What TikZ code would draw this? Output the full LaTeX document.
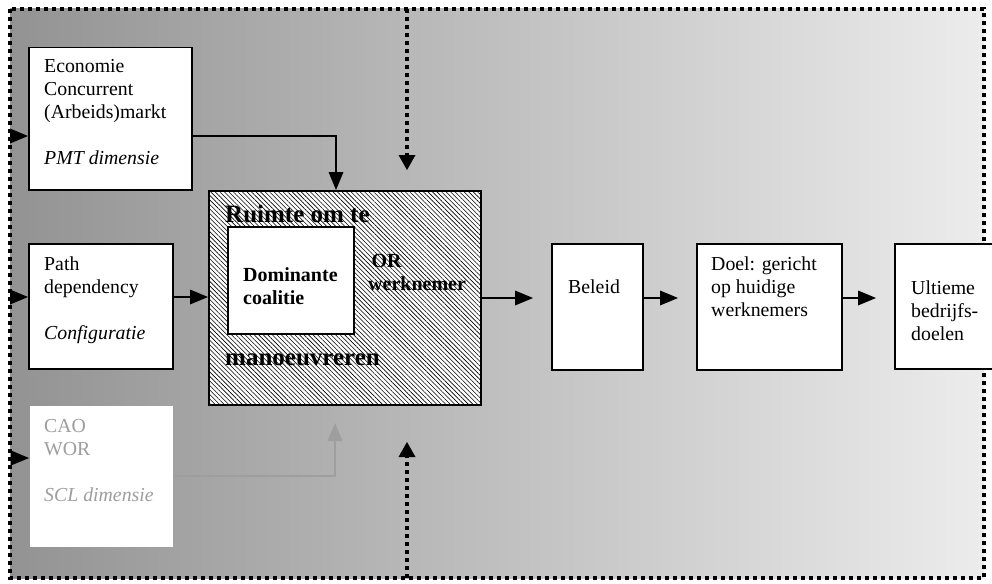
\documentclass[tikz,border=0pt]{standalone}
\usepackage{fontspec}
\setmainfont{Liberation Serif}
\usetikzlibrary{arrows.meta,patterns.meta}
\definecolor{bgL}{RGB}{147,147,147}
\definecolor{bgR}{RGB}{236,236,236}
\definecolor{fade}{RGB}{158,158,158}
\begin{document}
\begin{tikzpicture}[x=1pt,y=-1pt,
  box/.style={draw=black,line width=1.5pt,fill=white,inner sep=0pt,anchor=north west},
  txt/.style={anchor=base west,inner sep=0pt,font=\fontsize{19.8}{23}\selectfont},
  btxt/.style={anchor=base west,inner sep=0pt,font=\fontsize{25}{30}\selectfont\bfseries},
  ctxt/.style={anchor=base west,inner sep=0pt,font=\fontsize{20}{23}\selectfont\bfseries},
  conn/.style={line width=2pt,-{Triangle[length=18pt,width=15pt,line width=0pt]}},
  fadeconn/.style={line width=2pt,draw=fade,-{Triangle[length=18pt,width=15pt,line width=0pt,fill=fade]}},
  dots/.style={line width=3.8pt,dash pattern=on 3.8pt off 4.2pt},
  dotarr/.style={dots,-{Triangle[length=15pt,width=17pt,line width=0pt]}}
]
\useasboundingbox (0,0) rectangle (992,583);
\fill[white] (0,0) rectangle (992,583);
\shade[left color=bgL,right color=bgR] (10,9) rectangle (984,578);
\draw[dots] (10,9) rectangle (984,578);

% boxes
\node[box,minimum width=163pt,minimum height=142pt] (eco) at (28,47) {};
\node[box,minimum width=144pt,minimum height=125pt] (path) at (28,243) {};
\node[box,draw=none,minimum width=143pt,minimum height=141pt] (cao) at (29,405) {};
\node[box,minimum width=272pt,minimum height=214pt,
      postaction={pattern={Lines[angle=-45,distance=3.2pt,line width=0.6pt]}}] (hatch) at (208,190) {};
\node[box,minimum width=126pt,minimum height=107pt] (dom) at (227,226) {};
\node[box,minimum width=91pt,minimum height=126pt] (bel) at (551,243) {};
\node[box,minimum width=145pt,minimum height=126pt] (doel) at (696,243) {};
\node[box,minimum width=106pt,minimum height=125pt] (ult) at (894,243) {};

% texts
\node[txt] (ecot) at (44,73) {\vtop{\hbox{Economie}\hbox{Concurrent}\hbox{(Arbeids)markt}\hbox{}\hbox{\itshape PMT dimensie}}};
\node[txt] (patht) at (44,270) {\vtop{\hbox{Path}\hbox{dependency}\hbox{}\hbox{\itshape Configuratie}}};
\node[txt,text=fade] (caot) at (44,432) {\vtop{\hbox{CAO}\hbox{WOR}\hbox{}\hbox{\itshape SCL dimensie}}};
\node[btxt] (ruimte) at (225,222) {Ruimte om te};
\node[btxt] (manoeuv) at (225,365) {manoeuvreren};
\node[ctxt] (domt) at (243,281) {\vtop{\hbox{Dominante}\hbox{coalitie}}};
\node[ctxt] (ort) at (368,267) {\vtop{\hbox{\,OR}\hbox{werknemer}}};
\node[txt] (belt) at (568,293) {Beleid};
\node[txt] (doelt) at (711,270) {\vtop{\hbox{Doel: gericht}\hbox{op huidige}\hbox{werknemers}}};
\node[txt] (ultt) at (911,294) {\vtop{\hbox{Ultieme}\hbox{bedrijfs-}\hbox{doelen}}};

% connectors
\coordinate (l1) at (10,136);
\coordinate (l2) at (10,297);
\coordinate (l3) at (10,458);
\draw[conn] (l1) -- (l1 -| eco.west);
\draw[conn] (l2) -- (l2 -| path.west);
\draw[conn] (l3) -- (l3 -| cao.west);

\coordinate (k1) at (336,136);
\draw[conn] (l1 -| eco.east) -- (k1) -- (k1 |- hatch.north);
\draw[conn] (l2 -| path.east) -- (l2 -| hatch.west);
\coordinate (k3) at (335,476);
\coordinate (k3e) at (335,423);
\draw[fadeconn] (k3 -| cao.east) -- (k3) -- (k3e);

\coordinate (m) at (0,298);
\draw[conn,shorten >=18pt] (m -| hatch.east) -- (m -| bel.west);
\draw[conn,shorten >=18pt] (m -| bel.east) -- (m -| doel.west);
\draw[conn,shorten >=18pt] (m -| doel.east) -- (m -| ult.west);

\coordinate (t0) at (407,9);
\coordinate (t1) at (407,170);
\coordinate (b0) at (407,578);
\coordinate (b1) at (407,442);
\draw[dotarr] (t0) -- (t1);
\draw[dotarr] (b0) -- (b1);
\end{tikzpicture}
\end{document}
